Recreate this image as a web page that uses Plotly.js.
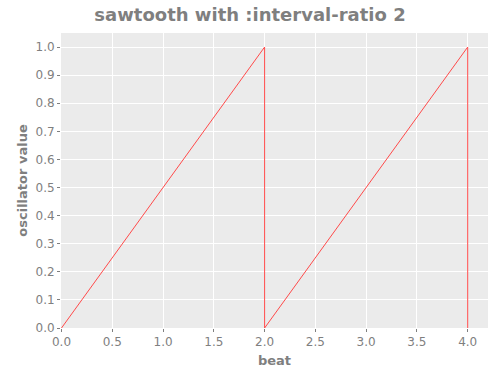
<!DOCTYPE html>
<html><head><meta charset="utf-8">
<script src="https://cdn.plot.ly/plotly-3.0.1.min.js"></script>
<style>body{margin:0;padding:0;}#chart{width:500px;height:378px;}</style>
</head><body><div id="chart"></div>
<script>
const beats = [0, 2, 2, 4, 4];
const values = [0, 1, 0, 1, 0];
const xTicks = [0, 0.5, 1, 1.5, 2, 2.5, 3, 3.5, 4];
const yTicks = [0, 0.1, 0.2, 0.3, 0.4, 0.5, 0.6, 0.7, 0.8, 0.9, 1.0];

const gray = '#7f7f7f';
const trace = {x: beats, y: values, type: 'scatter', mode: 'lines',
  line: {color: '#ff4a4a', width: 1}, hoverinfo: 'skip'};
const axisCommon = {showgrid: true, gridcolor: '#ffffff', gridwidth: 1, zeroline: false,
  ticks: 'outside', ticklen: 3, tickcolor: gray, tickfont: {family: 'DejaVu Sans', size: 12, color: gray},
  showline: false};
const layout = {
  width: 500, height: 378,
  margin: {l: 61, r: 12, t: 33, b: 50},
  paper_bgcolor: '#ffffff', plot_bgcolor: '#ebebeb',
  showlegend: false,
  title: {text: '<b>sawtooth with :interval-ratio 2</b>', x: 0.5, xanchor: 'center', y: 0.962, yanchor: 'middle',
    font: {family: 'DejaVu Sans', size: 18, color: gray}},
  xaxis: Object.assign({}, axisCommon, {range: [-0.005, 4.2], tickvals: xTicks,
    ticktext: xTicks.map(v => v.toFixed(1)),
    title: {text: '<b>beat</b>', standoff: 7, font: {family: 'DejaVu Sans', size: 13, color: gray}}}),
  yaxis: Object.assign({}, axisCommon, {range: [0, 1.05], tickvals: yTicks,
    ticktext: yTicks.map(v => v.toFixed(1)),
    title: {text: '<b>oscillator value</b>', standoff: 4, font: {family: 'DejaVu Sans', size: 13, color: gray}}})
};
Plotly.newPlot('chart', [trace], layout, {displayModeBar: false, staticPlot: true});
</script></body></html>
